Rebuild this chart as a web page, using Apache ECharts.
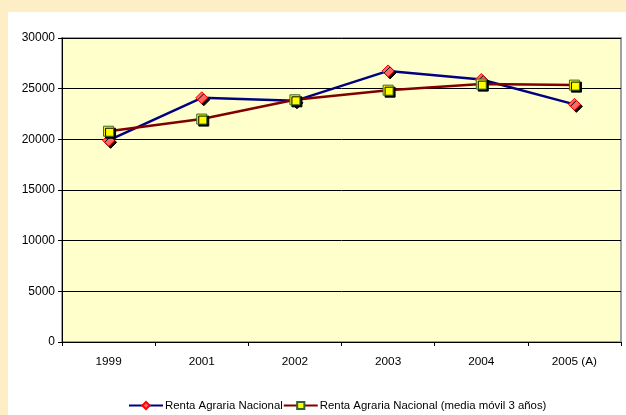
<!DOCTYPE html>
<html><head><meta charset="utf-8">
<script src="https://cdn.jsdelivr.net/npm/echarts@6/dist/echarts.min.js"></script>
<style>html,body{margin:0;padding:0;}#c{width:626px;height:415px;}</style>
</head><body><div id="c"></div>
<script>
var categories = ['1999', '2001', '2002', '2003', '2004', '2005 (A)'];
var rentaAgraria = [19900, 24100, 23800, 26750, 25900, 23450];
var mediaMovil = [20800, 22000, 23900, 24850, 25450, 25350];
var seriesNames = ['Renta Agraria Nacional', 'Renta Agraria Nacional (media móvil 3 años)'];

var chart = echarts.init(document.getElementById('c'), null, {renderer: 'canvas'});
var font = 'Liberation Sans, Arial, sans-serif';
chart.setOption({
  animation: false,
  backgroundColor: '#FEEEC6',
  graphic: [{type: 'rect', shape: {x: 8, y: 12, width: 618, height: 403}, style: {fill: '#ffffff'}, z: -10}],
  grid: {left: 62, top: 38, right: 5, bottom: 73, show: true, backgroundColor: '#FFFFCC', borderColor: '#A0A0A0', borderWidth: 2},
  legend: {
    left: 123, top: 395, itemWidth: 34, itemHeight: 9, itemGap: 0,
    textStyle: {fontFamily: font, fontSize: 11.4, color: '#000', padding: [0, 0, 0, -3]},
    data: seriesNames
  },
  xAxis: {
    type: 'category', data: categories, boundaryGap: true,
    axisLine: {lineStyle: {color: '#000', width: 1}},
    axisTick: {show: true, length: 4, lineStyle: {color: '#000'}, alignWithLabel: false},
    axisLabel: {fontFamily: font, fontSize: 11.8, color: '#000', margin: 14}
  },
  yAxis: {
    type: 'value', min: 0, max: 30000, interval: 5000,
    axisLine: {show: true, lineStyle: {color: '#000', width: 1}},
    axisTick: {show: true, length: 4, lineStyle: {color: '#000'}},
    axisLabel: {fontFamily: font, fontSize: 12, color: '#000', margin: 7, formatter: function (v) { return String(v); }},
    splitLine: {lineStyle: {color: '#000', width: 1}}
  },
  series: [
    {
      name: seriesNames[0], type: 'line', data: rentaAgraria,
      symbol: 'diamond', symbolSize: 12,
      lineStyle: {color: '#000080', width: 2.5},
      itemStyle: {color: '#FF6666', borderColor: '#FF0000', borderWidth: 1, shadowColor: '#000', shadowOffsetX: 2, shadowOffsetY: 2, shadowBlur: 0},
      z: 2
    },
    {
      name: seriesNames[1], type: 'line', data: mediaMovil,
      symbol: 'rect', symbolSize: 10,
      lineStyle: {color: '#800000', width: 2.5},
      itemStyle: {color: '#FFFF00', borderColor: '#336633', borderWidth: 1, shadowColor: '#000', shadowOffsetX: 2, shadowOffsetY: 2, shadowBlur: 0},
      z: 3
    }
  ]
});
</script></body></html>
